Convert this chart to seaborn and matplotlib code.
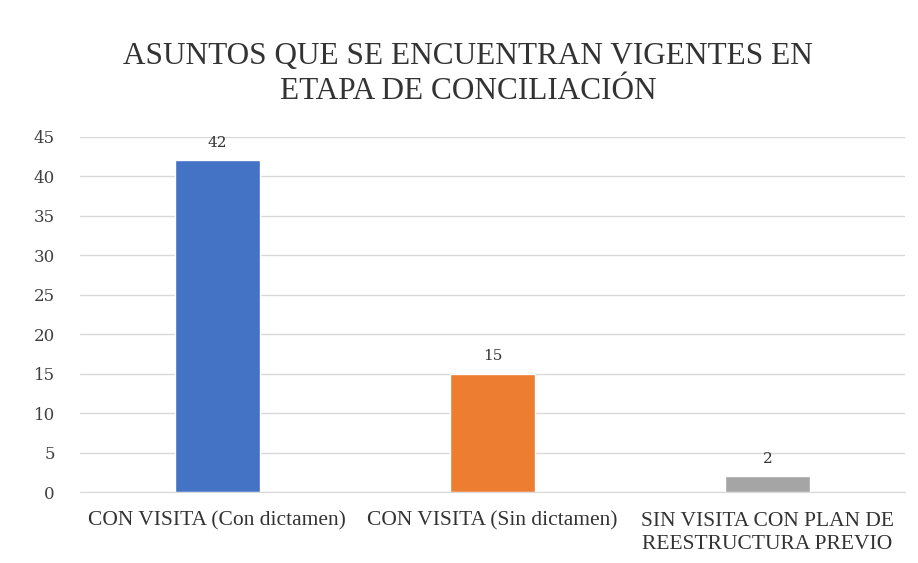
import pandas as pd
import seaborn as sns
import matplotlib.pyplot as plt

# datos del grafico
categorias = ["CON VISITA (Con dictamen)", "CON VISITA (Sin dictamen)",
              "SIN VISITA CON PLAN DE\nREESTRUCTURA PREVIO"]
asuntos = [42, 15, 2]
colores = ["#4472C4", "#ED7D31", "#A5A5A5"]

df = pd.DataFrame({"Categoria": categorias, "Asuntos": asuntos})

sns.set_style("white")
plt.rcParams["font.family"] = ["Liberation Serif", "DejaVu Serif"]

fig = plt.figure(figsize=(9.18, 5.63), dpi=100)
ax = fig.add_axes([0.087, 0.126, 0.899, 0.631])

sns.barplot(data=df, x="Categoria", y="Asuntos", hue="Categoria",
            palette=colores, width=0.31, saturation=1, legend=False, ax=ax)

for i, v in enumerate(asuntos):
    ax.text(i, v + 1.3, str(v), ha="center", va="bottom", fontsize=11,
            color="#333333", family="DejaVu Serif")

ax.set_ylim(0, 45)
ax.set_yticks(range(0, 46, 5))
ax.set_xlim(-0.5, 2.5)
ax.yaxis.grid(True, color="#d9d9d9", linewidth=1)
ax.set_axisbelow(True)
for s in ["top", "right", "left"]:
    ax.spines[s].set_visible(False)
ax.spines["bottom"].set_color("#d9d9d9")
ax.tick_params(axis="y", length=0, labelsize=12, colors="#404040", pad=18)
ax.tick_params(axis="x", length=0, labelsize=15.5, colors="#333333", pad=14)
for lbl in ax.get_yticklabels():
    lbl.set_family("DejaVu Serif")
for lbl in ax.get_xticklabels():
    lbl.set_linespacing(1.3)
ax.set_xlabel("")
ax.set_ylabel("")

fig.text(0.51, 0.869, "ASUNTOS QUE SE ENCUENTRAN VIGENTES EN\nETAPA DE CONCILIACIÓN",
         ha="center", va="center", fontsize=22.5, color="#333333", linespacing=1.25)

fig.savefig("out.png", dpi=100)
